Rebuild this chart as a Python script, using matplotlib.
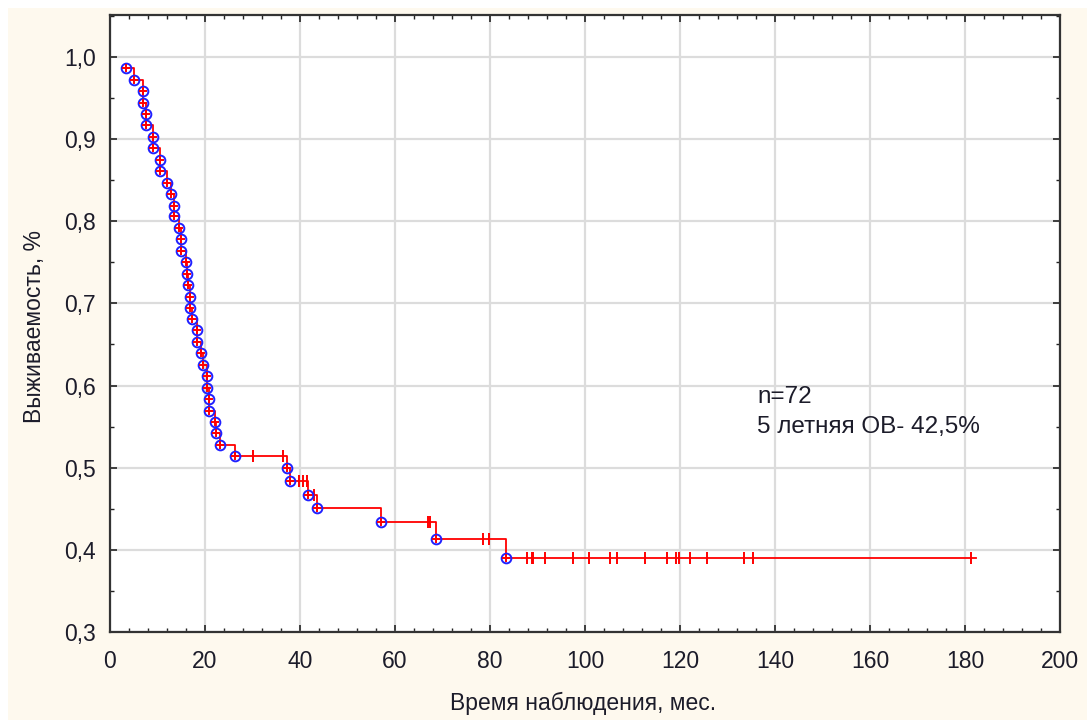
import matplotlib
matplotlib.use("Agg")
import matplotlib.pyplot as plt
import numpy as np
from matplotlib.patches import Rectangle
from matplotlib.ticker import MultipleLocator, FuncFormatter

# ---- data ----
event_times = [3.3, 5.1, 7.0, 7.0, 7.6, 7.6, 9.0, 9.0, 10.5, 10.5, 12.0, 12.8,
               13.5, 13.5, 14.5, 14.9, 14.9, 16.0, 16.3, 16.4, 16.8, 16.8, 17.3,
               18.3, 18.3, 19.2, 19.6, 20.4, 20.4, 20.8, 20.8, 22.1, 22.3, 23.2,
               26.3, 37.3, 37.9, 41.7, 43.6, 57.1, 68.6, 83.4]
event_surv = [0.986, 0.972, 0.958, 0.944, 0.931, 0.917, 0.903, 0.889, 0.875,
              0.861, 0.847, 0.833, 0.819, 0.806, 0.792, 0.778, 0.764, 0.750,
              0.736, 0.722, 0.708, 0.694, 0.681, 0.667, 0.653, 0.639, 0.625,
              0.611, 0.597, 0.583, 0.569, 0.556, 0.542, 0.528, 0.514, 0.500,
              0.484, 0.467, 0.451, 0.434, 0.413, 0.390]
censored_times = [30.1, 36.4, 39.8, 40.6, 41.4, 42.9, 67.0, 67.4, 78.5, 79.8,
                  87.8, 88.8, 89.1, 91.6, 97.5, 100.8, 105.3, 106.7, 112.6,
                  117.3, 119.2, 119.8, 122.1, 125.7, 133.5, 135.4, 181.3]
last_time = 182.3

x_label = "Время наблюдения, мес."
y_label = "Выживаемость, %"
note_lines = ["n=72", "5 летняя ОВ- 42,5%"]

# ---- style ----
plt.rcParams['font.family'] = ['Liberation Sans', 'DejaVu Sans']
bg = '#FEF9EE'
txt_color = '#1c1c2a'

fig = plt.figure(figsize=(10.87, 7.2), dpi=100)
fig.patch.set_facecolor('white')
fig.patches.append(Rectangle((8 / 1087, 0), 1, 1 - 8 / 720, transform=fig.transFigure,
                             facecolor=bg, edgecolor='none', zorder=-10))

ax = fig.add_axes([110 / 1087, 1 - 632 / 720, 950 / 1087, 617 / 720])
ax.set_facecolor('white')

ax.set_xlim(0, 200)
ax.set_ylim(0.3, 1.051)
ax.xaxis.set_major_locator(MultipleLocator(20))
ax.xaxis.set_minor_locator(MultipleLocator(4))
ax.yaxis.set_major_locator(MultipleLocator(0.1))
ax.yaxis.set_minor_locator(MultipleLocator(0.05))
ax.yaxis.set_major_formatter(FuncFormatter(lambda v, p: f"{v:.1f}".replace('.', ',')))
ax.xaxis.set_major_formatter(FuncFormatter(lambda v, p: f"{v:.0f}"))

ax.grid(True, which='major', color='#DCDCDC', linewidth=1.6, zorder=0)
ax.set_axisbelow(True)
for s in ax.spines.values():
    s.set_color('#333333')
    s.set_linewidth(1.6)

ax.tick_params(which='both', direction='in', top=True, right=True, color='#222222')
ax.tick_params(which='major', length=5, width=1.2, labelsize=16.5, labelcolor=txt_color)
ax.tick_params(which='minor', length=3, width=1.0)
ax.tick_params(axis='y', which='major', pad=10)
ax.tick_params(axis='x', which='major', pad=13)

# step line
xs = list(event_times) + [last_time]
ys = list(event_surv) + [event_surv[-1]]
ax.plot(xs, ys, drawstyle='steps-post', color='red', linewidth=1.3, zorder=3)

# censored marks at curve level
et = np.array(event_times)
es = np.array(event_surv)
c_y = [es[np.searchsorted(et, t, side='right') - 1] for t in censored_times]
ax.plot(censored_times, c_y, linestyle='none', marker='|', markersize=8,
        markeredgewidth=1.4, color='red', zorder=4)

# event markers: blue open circle with red cross
ax.plot(event_times, event_surv, linestyle='none', marker='o', markersize=7,
        markerfacecolor='none', markeredgecolor='#2020ff', markeredgewidth=1.4, zorder=5)
ax.plot(event_times, event_surv, linestyle='none', marker='+', markersize=6,
        markeredgewidth=1.4, color='red', zorder=6)

ax.text(136.2, 0.586, note_lines[0], fontsize=17.5, color=txt_color, va='center', ha='left')
ax.text(136.2, 0.5495, note_lines[1], fontsize=17.5, color=txt_color, va='center', ha='left')

fig.text(583 / 1087, 1 - 703 / 720, x_label, fontsize=16.5, color=txt_color,
         ha='center', va='center')
fig.text(35 / 1087, 1 - 327 / 720, y_label, fontsize=16.5, color=txt_color,
         ha='center', va='center', rotation=90)

fig.savefig('out.png', dpi=100, facecolor=fig.get_facecolor())
